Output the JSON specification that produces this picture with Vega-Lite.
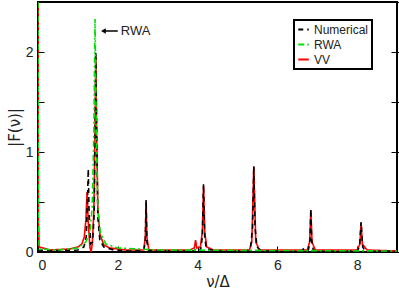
{
  "$schema": "https://vega.github.io/schema/vega-lite/v6.json",
  "width": 359,
  "height": 250,
  "autosize": {"type": "none"},
  "padding": {"left": 38, "top": 2, "right": 2, "bottom": 39},
  "background": "white",
  "config": {
    "view": {"stroke": "black", "strokeWidth": 2},
    "font": "Liberation Sans",
    "legend": {"strokeWidth": 2},
    "axis": {"labelFont": "Liberation Sans", "titleFont": "DejaVu Sans", "labelColor": "#222", "titleColor": "#222", "labelFontSize": 14, "titleFontSize": 15, "titleFontWeight": "normal", "grid": false, "domain": false, "tickColor": "black", "tickWidth": 1}
  },
  "datasets": {
    "curves": [
      {"nu": 0.0, "F": 2.5, "series": "VV"},
      {"nu": 0.01, "F": 0.3, "series": "VV"},
      {"nu": 0.03, "F": 0.05, "series": "VV"},
      {"nu": 0.3, "F": 0.02, "series": "VV"},
      {"nu": 0.8, "F": 0.03, "series": "VV"},
      {"nu": 1.0, "F": 0.05, "series": "VV"},
      {"nu": 1.1, "F": 0.08, "series": "VV"},
      {"nu": 1.16, "F": 0.15, "series": "VV"},
      {"nu": 1.2, "F": 0.32, "series": "VV"},
      {"nu": 1.23, "F": 0.6, "series": "VV"},
      {"nu": 1.26, "F": 0.3, "series": "VV"},
      {"nu": 1.3, "F": 0.05, "series": "VV"},
      {"nu": 1.33, "F": 0.0, "series": "VV"},
      {"nu": 1.36, "F": 0.08, "series": "VV"},
      {"nu": 1.4, "F": 0.4, "series": "VV"},
      {"nu": 1.43, "F": 1.2, "series": "VV"},
      {"nu": 1.45, "F": 1.95, "series": "VV"},
      {"nu": 1.47, "F": 1.2, "series": "VV"},
      {"nu": 1.5, "F": 0.45, "series": "VV"},
      {"nu": 1.55, "F": 0.18, "series": "VV"},
      {"nu": 1.65, "F": 0.07, "series": "VV"},
      {"nu": 1.8, "F": 0.04, "series": "VV"},
      {"nu": 2.2, "F": 0.02, "series": "VV"},
      {"nu": 2.65, "F": 0.02, "series": "VV"},
      {"nu": 2.69, "F": 0.15, "series": "VV"},
      {"nu": 2.71, "F": 0.5, "series": "VV"},
      {"nu": 2.73, "F": 0.15, "series": "VV"},
      {"nu": 2.78, "F": 0.02, "series": "VV"},
      {"nu": 3.8, "F": 0.02, "series": "VV"},
      {"nu": 3.92, "F": 0.04, "series": "VV"},
      {"nu": 3.95, "F": 0.12, "series": "VV"},
      {"nu": 3.98, "F": 0.04, "series": "VV"},
      {"nu": 4.07, "F": 0.05, "series": "VV"},
      {"nu": 4.12, "F": 0.2, "series": "VV"},
      {"nu": 4.15, "F": 0.66, "series": "VV"},
      {"nu": 4.18, "F": 0.2, "series": "VV"},
      {"nu": 4.23, "F": 0.05, "series": "VV"},
      {"nu": 4.4, "F": 0.02, "series": "VV"},
      {"nu": 5.3, "F": 0.02, "series": "VV"},
      {"nu": 5.36, "F": 0.1, "series": "VV"},
      {"nu": 5.41, "F": 0.85, "series": "VV"},
      {"nu": 5.46, "F": 0.1, "series": "VV"},
      {"nu": 5.55, "F": 0.02, "series": "VV"},
      {"nu": 6.75, "F": 0.02, "series": "VV"},
      {"nu": 6.81, "F": 0.1, "series": "VV"},
      {"nu": 6.84, "F": 0.42, "series": "VV"},
      {"nu": 6.87, "F": 0.1, "series": "VV"},
      {"nu": 6.95, "F": 0.02, "series": "VV"},
      {"nu": 8.0, "F": 0.02, "series": "VV"},
      {"nu": 8.07, "F": 0.08, "series": "VV"},
      {"nu": 8.1, "F": 0.29, "series": "VV"},
      {"nu": 8.13, "F": 0.08, "series": "VV"},
      {"nu": 8.25, "F": 0.02, "series": "VV"},
      {"nu": 9.0, "F": 0.01, "series": "VV"},

      {"nu": 0.0, "F": 0.02, "series": "Numerical"},
      {"nu": 0.5, "F": 0.01, "series": "Numerical"},
      {"nu": 1.0, "F": 0.02, "series": "Numerical"},
      {"nu": 1.15, "F": 0.05, "series": "Numerical"},
      {"nu": 1.21, "F": 0.15, "series": "Numerical"},
      {"nu": 1.24, "F": 0.5, "series": "Numerical"},
      {"nu": 1.26, "F": 0.83, "series": "Numerical"},
      {"nu": 1.28, "F": 0.4, "series": "Numerical"},
      {"nu": 1.32, "F": 0.08, "series": "Numerical"},
      {"nu": 1.37, "F": 0.1, "series": "Numerical"},
      {"nu": 1.41, "F": 0.4, "series": "Numerical"},
      {"nu": 1.43, "F": 1.2, "series": "Numerical"},
      {"nu": 1.45, "F": 2.0, "series": "Numerical"},
      {"nu": 1.47, "F": 1.2, "series": "Numerical"},
      {"nu": 1.5, "F": 0.35, "series": "Numerical"},
      {"nu": 1.55, "F": 0.12, "series": "Numerical"},
      {"nu": 1.65, "F": 0.05, "series": "Numerical"},
      {"nu": 1.9, "F": 0.02, "series": "Numerical"},
      {"nu": 2.3, "F": 0.01, "series": "Numerical"},
      {"nu": 2.65, "F": 0.015, "series": "Numerical"},
      {"nu": 2.69, "F": 0.1, "series": "Numerical"},
      {"nu": 2.71, "F": 0.52, "series": "Numerical"},
      {"nu": 2.73, "F": 0.1, "series": "Numerical"},
      {"nu": 2.77, "F": 0.015, "series": "Numerical"},
      {"nu": 3.5, "F": 0.01, "series": "Numerical"},
      {"nu": 3.93, "F": 0.01, "series": "Numerical"},
      {"nu": 3.95, "F": 0.03, "series": "Numerical"},
      {"nu": 3.97, "F": 0.01, "series": "Numerical"},
      {"nu": 4.08, "F": 0.03, "series": "Numerical"},
      {"nu": 4.12, "F": 0.15, "series": "Numerical"},
      {"nu": 4.15, "F": 0.68, "series": "Numerical"},
      {"nu": 4.18, "F": 0.15, "series": "Numerical"},
      {"nu": 4.22, "F": 0.03, "series": "Numerical"},
      {"nu": 4.5, "F": 0.01, "series": "Numerical"},
      {"nu": 5.25, "F": 0.01, "series": "Numerical"},
      {"nu": 5.33, "F": 0.05, "series": "Numerical"},
      {"nu": 5.38, "F": 0.25, "series": "Numerical"},
      {"nu": 5.41, "F": 0.86, "series": "Numerical"},
      {"nu": 5.44, "F": 0.25, "series": "Numerical"},
      {"nu": 5.49, "F": 0.05, "series": "Numerical"},
      {"nu": 5.6, "F": 0.01, "series": "Numerical"},
      {"nu": 6.6, "F": 0.005, "series": "Numerical"},
      {"nu": 6.65, "F": 0.03, "series": "Numerical"},
      {"nu": 6.7, "F": 0.01, "series": "Numerical"},
      {"nu": 6.78, "F": 0.02, "series": "Numerical"},
      {"nu": 6.82, "F": 0.12, "series": "Numerical"},
      {"nu": 6.84, "F": 0.43, "series": "Numerical"},
      {"nu": 6.86, "F": 0.12, "series": "Numerical"},
      {"nu": 6.9, "F": 0.02, "series": "Numerical"},
      {"nu": 7.2, "F": 0.005, "series": "Numerical"},
      {"nu": 8.0, "F": 0.01, "series": "Numerical"},
      {"nu": 8.06, "F": 0.05, "series": "Numerical"},
      {"nu": 8.1, "F": 0.3, "series": "Numerical"},
      {"nu": 8.14, "F": 0.05, "series": "Numerical"},
      {"nu": 8.2, "F": 0.01, "series": "Numerical"},
      {"nu": 9.0, "F": 0.005, "series": "Numerical"},

      {"nu": 0.0, "F": 2.5, "series": "RWA"},
      {"nu": 0.01, "F": 0.3, "series": "RWA"},
      {"nu": 0.03, "F": 0.03, "series": "RWA"},
      {"nu": 0.5, "F": 0.02, "series": "RWA"},
      {"nu": 1.0, "F": 0.04, "series": "RWA"},
      {"nu": 1.2, "F": 0.1, "series": "RWA"},
      {"nu": 1.3, "F": 0.2, "series": "RWA"},
      {"nu": 1.36, "F": 0.45, "series": "RWA"},
      {"nu": 1.4, "F": 1.2, "series": "RWA"},
      {"nu": 1.43, "F": 2.33, "series": "RWA"},
      {"nu": 1.46, "F": 1.2, "series": "RWA"},
      {"nu": 1.5, "F": 0.45, "series": "RWA"},
      {"nu": 1.56, "F": 0.2, "series": "RWA"},
      {"nu": 1.7, "F": 0.08, "series": "RWA"},
      {"nu": 2.0, "F": 0.04, "series": "RWA"},
      {"nu": 3.0, "F": 0.02, "series": "RWA"},
      {"nu": 9.0, "F": 0.01, "series": "RWA"}
    ],
    "arrow": [
      {"nu": 1.64, "nu2": 2.0, "F": 2.21, "label": "RWA"}
    ]
  },
  "layer": [
    {
      "data": {"name": "curves"},
      "transform": [{"filter": "datum.series === 'VV'"}],
      "mark": {"type": "line", "strokeWidth": 1.6, "clip": true},
      "encoding": {
        "x": {"field": "nu", "type": "quantitative", "scale": {"domain": [0, 9], "nice": false}, "axis": {"title": "ν/Δ", "values": [0, 2, 4, 6, 8], "tickSize": -6, "labelPadding": 12, "titlePadding": 2}},
        "y": {"field": "F", "type": "quantitative", "scale": {"domain": [0, 2.5], "nice": false}, "axis": {"title": "|F(ν)|", "values": [0, 0.5, 1, 1.5, 2], "labelExpr": "datum.value % 1 === 0 ? '' + datum.value : ''", "tickSize": -6, "labelPadding": 11, "titlePadding": 3}},
        "color": {"field": "series", "type": "nominal", "scale": {"domain": ["Numerical", "RWA", "VV"], "range": ["black", "#00e000", "#ff0000"]}, "legend": {"title": null, "orient": "none", "legendX": 256, "legendY": 18, "strokeColor": "black", "fillColor": "white", "padding": 3, "symbolType": "stroke", "symbolSize": 110, "symbolStrokeWidth": 2, "labelFontSize": 12, "labelFont": "Liberation Sans", "labelColor": "#222", "rowPadding": 2, "labelOffset": 4}},
        "strokeDash": {"field": "series", "type": "nominal", "scale": {"domain": ["Numerical", "RWA", "VV"], "range": [[5, 4], [6, 3, 2, 3], [1, 0]]}, "legend": {"title": null, "orient": "none", "legendX": 256, "legendY": 18, "strokeColor": "black", "fillColor": "white", "padding": 3, "symbolType": "stroke", "symbolSize": 110, "symbolStrokeWidth": 2, "labelFontSize": 12, "labelFont": "Liberation Sans", "labelColor": "#222", "rowPadding": 2, "labelOffset": 4}}
      }
    },
    {
      "data": {"name": "curves"},
      "transform": [{"filter": "datum.series === 'Numerical'"}],
      "mark": {"type": "line", "strokeWidth": 1.6, "clip": true},
      "encoding": {
        "x": {"field": "nu", "type": "quantitative"},
        "y": {"field": "F", "type": "quantitative"},
        "color": {"field": "series", "type": "nominal"},
        "strokeDash": {"field": "series", "type": "nominal"}
      }
    },
    {
      "data": {"name": "curves"},
      "transform": [{"filter": "datum.series === 'RWA'"}],
      "mark": {"type": "line", "strokeWidth": 1.6, "clip": true},
      "encoding": {
        "x": {"field": "nu", "type": "quantitative"},
        "y": {"field": "F", "type": "quantitative"},
        "color": {"field": "series", "type": "nominal"},
        "strokeDash": {"field": "series", "type": "nominal"}
      }
    },
    {
      "data": {"name": "arrow"},
      "mark": {"type": "rule", "color": "black", "strokeWidth": 1.5},
      "encoding": {
        "x": {"field": "nu", "type": "quantitative"},
        "x2": {"field": "nu2"},
        "y": {"field": "F", "type": "quantitative"}
      }
    },
    {
      "data": {"name": "arrow"},
      "mark": {"type": "point", "shape": "triangle-left", "filled": true, "color": "black", "size": 30, "opacity": 1},
      "encoding": {
        "x": {"field": "nu", "type": "quantitative"},
        "y": {"field": "F", "type": "quantitative"}
      }
    },
    {
      "data": {"name": "arrow"},
      "mark": {"type": "text", "align": "left", "baseline": "middle", "dx": 3, "fontSize": 13, "font": "Liberation Sans", "color": "#222"},
      "encoding": {
        "x": {"field": "nu2", "type": "quantitative"},
        "y": {"field": "F", "type": "quantitative", "axis": {"orient": "right", "title": null, "labels": false, "values": [0, 0.5, 1, 1.5, 2], "tickSize": -6}},
        "text": {"field": "label"}
      }
    }
  ],
  "resolve": {"axis": {"y": "independent"}}
}
